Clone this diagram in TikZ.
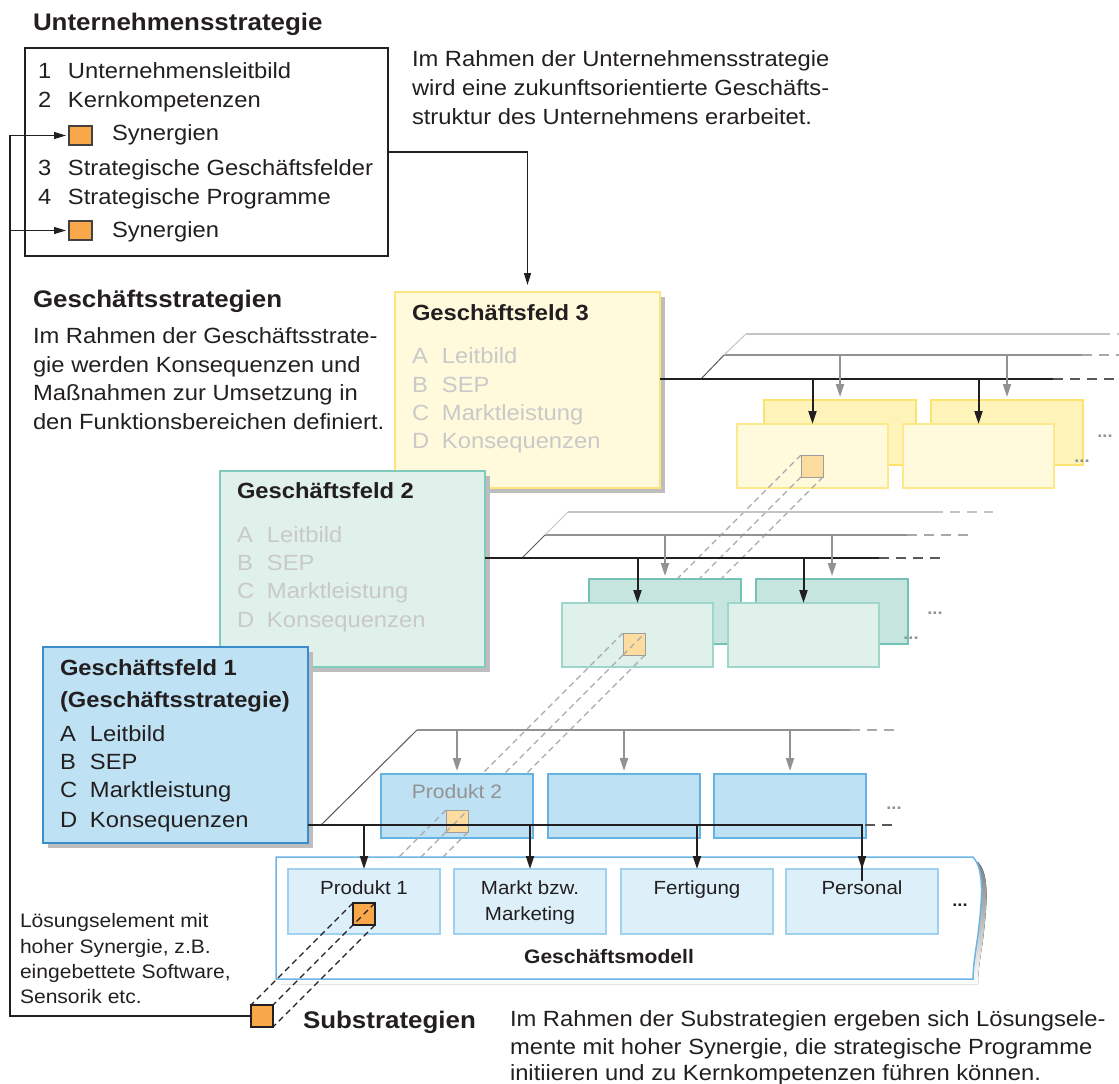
\documentclass[tikz,border=0pt]{standalone}
\usepackage{fontspec}
\setmainfont[FakeStretch=1.08]{Liberation Sans}
\usetikzlibrary{arrows.meta}

\definecolor{ink}{HTML}{231F20}
\definecolor{synorange}{HTML}{F8A84A}
\definecolor{synpale}{HTML}{FDDCA0}
\definecolor{gfAfill}{HTML}{BEE2F4}
\definecolor{gfAline}{HTML}{3A8DCB}
\definecolor{prodline}{HTML}{64B3E3}
\definecolor{modfill}{HTML}{DDEFF9}
\definecolor{modline}{HTML}{9FD1EF}
\definecolor{modframe}{HTML}{6DB5E5}
\definecolor{gfBfill}{HTML}{E0F0EB}
\definecolor{gfBline}{HTML}{7FCBBE}
\definecolor{gfBback}{HTML}{C6E5DF}
\definecolor{gfBbackline}{HTML}{72C3B4}
\definecolor{gfBfrontline}{HTML}{9FD6CB}
\definecolor{gfCfill}{HTML}{FFFADC}
\definecolor{gfCline}{HTML}{FCE47C}
\definecolor{gfCback}{HTML}{FEF4BA}
\definecolor{gfCbackline}{HTML}{FCE36E}
\definecolor{gfCfrontline}{HTML}{FDE98C}
\definecolor{faint}{HTML}{C9C9C9}
\definecolor{midgrey}{HTML}{929292}
\definecolor{lightgrey}{HTML}{C4C4C4}
\definecolor{dashgrey}{HTML}{A8A8A8}
\definecolor{shade}{HTML}{BDBDBD}

% number/letter column followed by the item text
\newcommand\itm[2]{\makebox[30pt][l]{#1}#2}

\begin{document}
\begin{tikzpicture}[x=1pt,y=-1pt,
  txt/.style={anchor=base west, inner sep=0pt, outer sep=0pt, text=ink},
  bodytext/.style={txt, font=\fontsize{22}{28}\selectfont},
  boldtext/.style={txt, font=\bfseries\fontsize{22}{28}\selectfont},
  heading/.style={txt, font=\bfseries\fontsize{24}{28}\selectfont},
  notetext/.style={txt, font=\fontsize{19.5}{25}\selectfont},
  celltext/.style={anchor=base, inner sep=0pt, outer sep=0pt, text=ink, font=\fontsize{19}{26}\selectfont},
  fainttext/.style={bodytext, text=faint},
  dots/.style={anchor=base, inner sep=0pt, text=midgrey, font=\bfseries\fontsize{17}{17}\selectfont},
  boxbase/.style={rectangle, anchor=north west, inner sep=0pt, outer sep=0pt},
  plainbox/.style={boxbase, draw=ink, line width=1.2pt, fill=white},
  shadowed/.style={preaction={fill=shade, transform canvas={shift={(5pt,-5pt)}}}},
  gfbox/.style={boxbase, shadowed, line width=1.5pt, minimum width=265pt, minimum height=196pt},
  backbox/.style={boxbase, line width=1.3pt, minimum width=152pt, minimum height=65pt},
  frontbox/.style={boxbase, line width=1.3pt, minimum width=151pt, minimum height=64pt},
  cellbox/.style={boxbase, fill=modfill, draw=modline, line width=1.3pt, minimum width=152pt, minimum height=65pt},
  sqspot/.style={boxbase, minimum width=22pt, minimum height=22pt},
  legendsq/.style={boxbase, minimum width=23pt, minimum height=19pt, fill=synorange, draw=ink!85, line width=1.1pt},
  palesq/.style={fill=synpale, draw=midgrey!90, line width=1pt},
  strongsq/.style={fill=synorange, draw=ink, line width=1.2pt},
  conn/.style={draw=ink, line width=1.2pt},
  arrowtip/.style={-{Triangle[length=12pt,width=7pt]}},
  spine/.style={draw=ink, line width=2.6pt},
  spinedash/.style={draw=ink!75, line width=2pt, dash pattern=on 10pt off 7pt},
  midline/.style={draw=midgrey, line width=2.4pt},
  middash/.style={draw=midgrey!80, line width=2pt, dash pattern=on 10pt off 7pt},
  topline/.style={draw=lightgrey, line width=2pt},
  topdash/.style={draw=lightgrey, line width=2pt, dash pattern=on 10pt off 7pt},
  slantdark/.style={draw=ink!75, line width=1pt},
  slantlight/.style={draw=lightgrey, line width=1pt},
  blackdrop/.style={draw=ink, line width=2pt, -{Triangle[length=13pt,width=8pt]}},
  greydrop/.style={draw=midgrey, line width=2pt, -{Triangle[length=13pt,width=8pt]}, shorten >=3pt},
  greydashed/.style={draw=dashgrey, line width=1.1pt, dash pattern=on 6pt off 4pt},
  blackdashed/.style={draw=ink, line width=1.1pt, dash pattern=on 6pt off 4pt}
]
\useasboundingbox (0,0) rectangle (1119,1084);

% positions of the synergy elements along the diagonal
\path node[sqspot] (sqC) at (801,455) {};
\path node[sqspot] (sqB) at (623,633) {};
\path node[sqspot] (sqP2) at (446,810) {};
\path node[sqspot] (sqP1) at (353,903) {};
\path node[sqspot] (sqBig) at (251,1005) {};

% ---------------- company strategy ----------------
\node[heading] (titleU) at (33,30) {Unternehmensstrategie};
\node[plainbox, minimum width=363pt, minimum height=208pt] (ustrat) at (25,48) {};
\node[bodytext] (u1) at (38,78) {\itm{1}{Unternehmensleitbild}};
\node[bodytext] (u2) at (38,107) {\itm{2}{Kernkompetenzen}};
\node[legendsq] (syn1) at (69,126) {};
\node[bodytext] (u2s) at (112,140) {Synergien};
\node[bodytext] (u3) at (38,175) {\itm{3}{Strategische Geschäftsfelder}};
\node[bodytext] (u4) at (38,204) {\itm{4}{Strategische Programme}};
\node[legendsq] (syn2) at (69,221) {};
\node[bodytext] (u4s) at (112,237) {Synergien};

\node[bodytext] (pa1) at (412,66) {Im Rahmen der Unternehmensstrategie};
\node[bodytext] (pa2) at (412,95) {wird eine zukunftsorientierte Geschäfts-};
\node[bodytext] (pa3) at (412,124) {struktur des Unternehmens erarbeitet.};

% ---------------- business strategies ----------------
\node[heading] (titleG) at (33,307) {Geschäftsstrategien};
\node[bodytext] (pb1) at (33,343) {Im Rahmen der Geschäftsstrate-};
\node[bodytext] (pb2) at (33,372) {gie werden Konsequenzen und};
\node[bodytext] (pb3) at (33,400) {Maßnahmen zur Umsetzung in};
\node[bodytext] (pb4) at (33,429) {den Funktionsbereichen definiert.};

% ---------------- business field 3 ----------------
\node[gfbox, fill=gfCfill, draw=gfCline] (gfC) at (395,292) {};
\node[boldtext] (gfCt) at (412,320) {Geschäftsfeld 3};
\node[fainttext] (gfCa) at (412,363) {\itm{A}{Leitbild}};
\node[fainttext] (gfCb) at (412,392) {\itm{B}{SEP}};
\node[fainttext] (gfCc) at (412,420) {\itm{C}{Marktleistung}};
\node[fainttext] (gfCd) at (412,448) {\itm{D}{Konsequenzen}};

\draw[conn, arrowtip, shorten >=7pt] (ustrat.east) -| (gfC.north);

\coordinate (spCa) at (660,379);
\coordinate (spCe) at (1053,379);
\coordinate (spCf) at (1125,379);
\coordinate (slC1) at (701,379);
\coordinate (slC2) at (724,355);
\coordinate (slC3) at (746,334);
\coordinate (midCe) at (1082,355);
\coordinate (midCf) at (1125,355);
\coordinate (topCe) at (1100,334);
\coordinate (topCf) at (1125,334);
\draw[topline] (slC3) -- (topCe);
\draw[topdash] (topCe) -- (topCf);
\draw[midline] (slC2) -- (midCe);
\draw[middash] (midCe) -- (midCf);
\draw[slantlight] (slC2) -- (slC3);
\draw[slantdark] (slC1) -- (slC2);
\node[backbox, fill=gfCback, draw=gfCbackline] (bC1) at (764,400) {};
\node[backbox, fill=gfCback, draw=gfCbackline] (bC2) at (931,400) {};
\node[frontbox, fill=gfCfill, draw=gfCfrontline] (fC1) at (737,424) {};
\node[frontbox, fill=gfCfill, draw=gfCfrontline] (fC2) at (903,424) {};
\draw[spine] (spCa) -- (spCe);
\draw[spinedash] (spCe) -- (spCf);
\draw[greydrop] (bC1.north |- slC2) -- (bC1.north);
\draw[greydrop] (bC2.north |- slC2) -- (bC2.north);
\draw[blackdrop] (fC1.north |- spCa) -- (fC1.north);
\draw[blackdrop] (fC2.north |- spCa) -- (fC2.north);
\node[dots] (dC1) at (1105,437) {...};
\node[dots] (dC2) at (1082,462) {...};
\draw[palesq] (sqC.north west) rectangle (sqC.south east);

% element line, field 3 -> field 2
\draw[greydashed] (sqC.north west) -- (sqB.north west);
\draw[greydashed] (sqC.south west) -- (sqB.north east);
\draw[greydashed] (sqC.south east) -- (sqB.south east);

% ---------------- business field 2 ----------------
\node[gfbox, fill=gfBfill, draw=gfBline] (gfB) at (220,471) {};
\node[boldtext] (gfBt) at (237,498) {Geschäftsfeld 2};
\node[fainttext] (gfBa) at (237,542) {\itm{A}{Leitbild}};
\node[fainttext] (gfBb) at (237,570) {\itm{B}{SEP}};
\node[fainttext] (gfBc) at (237,598) {\itm{C}{Marktleistung}};
\node[fainttext] (gfBd) at (237,627) {\itm{D}{Konsequenzen}};

\coordinate (spBa) at (485,558);
\coordinate (spBe) at (879,558);
\coordinate (spBf) at (941,558);
\coordinate (slB1) at (522,558);
\coordinate (slB2) at (545,535);
\coordinate (slB3) at (568,512);
\coordinate (midBe) at (907,535);
\coordinate (midBf) at (969,535);
\coordinate (topBe) at (933,512);
\coordinate (topBf) at (993,512);
\draw[topline] (slB3) -- (topBe);
\draw[topdash] (topBe) -- (topBf);
\draw[midline] (slB2) -- (midBe);
\draw[middash] (midBe) -- (midBf);
\draw[slantlight] (slB2) -- (slB3);
\draw[slantdark] (slB1) -- (slB2);
\node[backbox, fill=gfBback, draw=gfBbackline] (bB1) at (589,579) {};
\node[backbox, fill=gfBback, draw=gfBbackline] (bB2) at (756,579) {};
\node[frontbox, fill=gfBfill, draw=gfBfrontline] (fB1) at (562,603) {};
\node[frontbox, fill=gfBfill, draw=gfBfrontline] (fB2) at (728,603) {};
\draw[spine] (spBa) -- (spBe);
\draw[spinedash] (spBe) -- (spBf);
\draw[greydrop] (bB1.north |- slB2) -- (bB1.north);
\draw[greydrop] (bB2.north |- slB2) -- (bB2.north);
\draw[blackdrop] (fB1.north |- spBa) -- (fB1.north);
\draw[blackdrop] (fB2.north |- spBa) -- (fB2.north);
\node[dots] (dB1) at (935,614) {...};
\node[dots] (dB2) at (911,639) {...};
\draw[palesq] (sqB.north west) rectangle (sqB.south east);
\draw[greydashed] (sqB.south west) -- (sqB.north east);

% element line, field 2 -> product 2
\draw[greydashed] (sqB.north west) -- (sqP2.north west);
\draw[greydashed] (sqB.south west) -- (sqP2.north east);
\draw[greydashed] (sqB.south east) -- (sqP2.south east);

% ---------------- business field 1 ----------------
\node[gfbox, fill=gfAfill, draw=gfAline] (gfA) at (43,647) {};
\node[boldtext] (gfAt) at (60,675) {Geschäftsfeld 1};
\node[boldtext] (gfAt2) at (60,707) {(Geschäftsstrategie)};
\node[bodytext] (gfAa) at (60,741) {\itm{A}{Leitbild}};
\node[bodytext] (gfAb) at (60,769) {\itm{B}{SEP}};
\node[bodytext] (gfAc) at (60,797) {\itm{C}{Marktleistung}};
\node[bodytext] (gfAd) at (60,827) {\itm{D}{Konsequenzen}};

\coordinate (spAa) at (308,825);
\coordinate (spAd) at (865,825);
\coordinate (spAf) at (895,825);
\coordinate (slA1) at (321,825);
\coordinate (slA2) at (417,730);
\coordinate (midAe) at (850,730);
\coordinate (midAf) at (895,730);
\draw[slantdark] (slA1) -- (slA2);
\draw[midline] (slA2) -- (midAe);
\draw[middash] (midAe) -- (midAf);
\node[backbox, fill=gfAfill, draw=prodline, minimum height=64pt] (pA1) at (381,774) {};
\node[backbox, fill=gfAfill, draw=prodline, minimum height=64pt] (pA2) at (548,774) {};
\node[backbox, fill=gfAfill, draw=prodline, minimum height=64pt] (pA3) at (714,774) {};
\node[celltext, text=midgrey, font=\fontsize{19.5}{24}\selectfont] (pA1t) at (457,798) {Produkt 2};
\draw[greydrop] (pA1.north |- slA2) -- (pA1.north);
\draw[greydrop] (pA2.north |- slA2) -- (pA2.north);
\draw[greydrop] (pA3.north |- slA2) -- (pA3.north);
\node[dots] (dA1) at (894,809) {...};
\draw[palesq] (sqP2.north west) rectangle (sqP2.south east);
\draw[greydashed] (sqP2.south west) -- (sqP2.north east);
\draw[spinedash] (spAd) -- (spAf);

% element line, product 2 -> product 1
\draw[greydashed] (sqP2.north west) -- (sqP1.north west);
\draw[greydashed] (sqP2.south west) -- (sqP1.north east);
\draw[greydashed] (sqP2.south east) -- (sqP1.south east);

% ---------------- business model ----------------
\fill[shade] (281,862) -- (978,862) .. controls (990,875) and (987,905) .. (983,940)
  .. controls (980,960) and (978,972) .. (978,984) -- (281,984) -- cycle;
\draw[fill=white, draw=modframe, line width=1.5pt] (276,857) -- (973,857)
  .. controls (985,870) and (982,900) .. (978,935)
  .. controls (975,955) and (973,968) .. (973,979) -- (276,979) -- cycle;
\node[cellbox] (mP) at (288,869) {};
\node[cellbox] (mM) at (454,869) {};
\node[cellbox] (mF) at (621,869) {};
\node[cellbox] (mPe) at (786,869) {};
\node[celltext] (mPt) at (364,894) {Produkt 1};
\node[celltext] (mMt) at (530,894) {Markt bzw.};
\node[celltext] (mMt2) at (530,920) {Marketing};
\node[celltext] (mFt) at (697,894) {Fertigung};
\node[celltext] (mPet) at (862,894) {Personal};
\node[celltext, font=\bfseries\fontsize{17}{17}\selectfont] (mDots) at (960,906) {...};
\node[celltext, font=\bfseries\fontsize{19.5}{24}\selectfont] (mTitle) at (609,963) {Geschäftsmodell};

\draw[spine] (spAa) -| ([yshift=-12pt]mPe.north);
\draw[blackdrop] (mPe.north |- spAa) -- (mPe.north);
\draw[blackdrop] (mP.north |- spAa) -- (mP.north);
\draw[blackdrop] (mM.north |- spAa) -- (mM.north);
\draw[blackdrop] (mF.north |- spAa) -- (mF.north);

\draw[strongsq] (sqP1.north west) rectangle (sqP1.south east);

% element line, product 1 -> substrategy
\draw[blackdashed] (sqP1.north west) -- (sqBig.north west);
\draw[blackdashed] (sqP1.north east) -- (sqBig.north east);
\draw[blackdashed] (sqP1.south east) -- (sqBig.south east);
\draw[strongsq] (sqBig.north west) rectangle (sqBig.south east);

% feedback to the synergy items
\coordinate (railtop) at (10,0 |- syn1.west);
\draw[conn, arrowtip, shorten >=3pt] (sqBig.west) -| (railtop) -- (syn1.west);
\draw[conn, arrowtip, shorten >=3pt] (railtop |- syn2.west) -- (syn2.west);

% ---------------- substrategies ----------------
\node[notetext] (n1) at (20,927) {Lösungselement mit};
\node[notetext] (n2) at (20,953) {hoher Synergie, z.B.};
\node[notetext] (n3) at (20,978) {eingebettete Software,};
\node[notetext] (n4) at (20,1003) {Sensorik etc.};

\node[heading] (titleS) at (303,1028) {Substrategien};
\node[bodytext] (pc1) at (510,1026) {Im Rahmen der Substrategien ergeben sich Lösungsele-};
\node[bodytext] (pc2) at (510,1054) {mente mit hoher Synergie, die strategische Programme};
\node[bodytext] (pc3) at (510,1080) {initiieren und zu Kernkompetenzen führen können.};
\end{tikzpicture}
\end{document}
